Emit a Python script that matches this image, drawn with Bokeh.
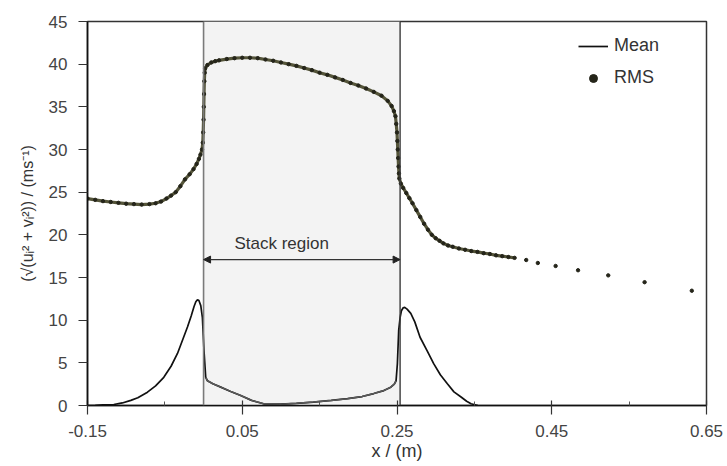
from bokeh.plotting import figure
from bokeh.models import (Range1d, FixedTicker, Span, Arrow, NormalHead, Label,
                          Legend, LegendItem)
from bokeh.embed import file_html
from bokeh.resources import INLINE

# ---------------- data ----------------
mean_x = [-0.150, -0.140, -0.130, -0.116, -0.105, -0.094, -0.085, -0.0725, -0.062,
          -0.0514, -0.042, -0.0337, -0.027, -0.0208, -0.016, -0.0123, -0.010,
          -0.0079, -0.006, -0.0036, -0.0015, 0.0005, 0.0028, 0.005, 0.012, 0.0222,
          0.035, 0.048, 0.062, 0.0776, 0.0995, 0.120, 0.142, 0.165, 0.186, 0.205,
          0.220, 0.233, 0.242, 0.2465, 0.2488, 0.2505, 0.2522, 0.2540, 0.2557,
          0.2580, 0.260, 0.263, 0.2678, 0.273, 0.2798, 0.289, 0.2974, 0.306,
          0.3151, 0.3236, 0.3328, 0.340, 0.3457, 0.3545]
mean_y = [0.0, 0.03, 0.07, 0.12, 0.3, 0.6, 0.9, 1.56, 2.3,
          3.3, 4.6, 6.1, 7.7, 9.2, 10.5, 11.6, 12.15,
          12.4, 12.3, 11.7, 10.3, 6.5, 3.3, 2.9, 2.55, 2.15,
          1.65, 1.17, 0.6, 0.2, 0.15, 0.25, 0.4, 0.6, 0.8, 1.05,
          1.4, 1.75, 2.15, 2.5, 2.9, 4.9, 8.8, 10.3, 11.1,
          11.45, 11.5, 11.3, 10.8, 9.8, 8.0, 6.4, 4.9, 3.6,
          2.55, 1.6, 1.0, 0.5, 0.2, 0.0]

rms_x = [-0.150, -0.140, -0.130, -0.120, -0.110, -0.100, -0.090, -0.080, -0.070,
         -0.062, -0.055, -0.048, -0.042, -0.036, -0.030, -0.024, -0.018, -0.013,
         -0.009, -0.006, -0.004, -0.002, -0.001, -0.0005, 0.0, 0.0003, 0.0006,
         0.001, 0.0015, 0.002, 0.005, 0.010, 0.015, 0.020, 0.030, 0.040, 0.050,
         0.060, 0.070, 0.080, 0.090, 0.100, 0.110, 0.120, 0.130, 0.140, 0.150,
         0.160, 0.170, 0.180, 0.190, 0.200, 0.210, 0.220, 0.230, 0.238, 0.243,
         0.246, 0.248, 0.249, 0.250, 0.2505, 0.251, 0.2515, 0.252, 0.2525, 0.253,
         0.255, 0.258, 0.262, 0.266, 0.270, 0.275, 0.280, 0.285, 0.290, 0.295,
         0.300, 0.305, 0.310, 0.316, 0.322, 0.330, 0.338, 0.346, 0.354, 0.362,
         0.370, 0.378, 0.386, 0.394, 0.402, 0.417, 0.432, 0.455, 0.484, 0.523,
         0.570, 0.631]
rms_y = [24.25, 24.1, 23.95, 23.85, 23.75, 23.65, 23.6, 23.55, 23.6,
         23.7, 23.9, 24.25, 24.6, 25.0, 25.7, 26.5, 27.1, 27.7,
         28.3, 28.9, 29.4, 30.0, 30.8, 32.0, 33.5, 35.0, 36.5,
         38.0, 39.0, 39.5, 39.9, 40.2, 40.35, 40.45, 40.6, 40.7, 40.75,
         40.75, 40.7, 40.55, 40.4, 40.2, 40.0, 39.8, 39.55, 39.3, 39.0,
         38.75, 38.45, 38.15, 37.8, 37.5, 37.15, 36.75, 36.3, 35.7, 35.1,
         34.5, 33.9, 33.0, 32.0, 31.0, 30.0, 29.0, 28.0, 27.2, 26.6,
         26.0, 25.5, 24.9, 24.3, 23.7, 22.9, 22.1, 21.3, 20.6, 20.0,
         19.6, 19.3, 19.0, 18.75, 18.6, 18.4, 18.25, 18.1, 18.0, 17.85,
         17.75, 17.6, 17.5, 17.4, 17.3, 17.05, 16.7, 16.35, 15.85, 15.25,
         14.45, 13.45]
rms_dense_limit = 0.402   # densely sampled part of the RMS series

stack_start = 0.0
stack_end = 0.254
stack_label = "Stack region"
stack_label_x = 0.101
stack_label_y = 18.95
arrow_y = 17.1

x_ticks = [-0.15, 0.05, 0.25, 0.45, 0.65]
x_minor_ticks = [-0.05, 0.15, 0.35, 0.55]
y_ticks = [0, 5, 10, 15, 20, 25, 30, 35, 40, 45]
x_min, x_max = -0.15, 0.65
y_min, y_max = 0, 45

FONT = "Liberation Sans"

# ---------------- figure ----------------
p = figure(width=727, height=466, output_backend="svg", toolbar_location=None,
           x_range=Range1d(x_min, x_max), y_range=Range1d(y_min, y_max),
           min_border_left=87, min_border_right=21, min_border_top=21,
           min_border_bottom=61)
p.background_fill_color = "white"
p.border_fill_color = "white"
p.outline_line_color = "#333333"
p.outline_line_width = 1.5
p.xgrid.visible = False
p.ygrid.visible = False

# stack region shading and edges
p.quad(left=[stack_start], right=[stack_end], bottom=[y_min], top=[y_max],
       fill_color="#f3f3f3", line_color=None)
p.add_layout(Span(location=stack_start, dimension="height", line_color="#7a7a7a",
                  line_width=1.6))
p.add_layout(Span(location=stack_end, dimension="height", line_color="#3a3a3a",
                  line_width=1.4))

# RMS series: dense part also traced so it reads as a thick dotted band
dense_x = [x for x in rms_x if x <= rms_dense_limit]
dense_y = [y for x, y in zip(rms_x, rms_y) if x <= rms_dense_limit]
p.line(dense_x, dense_y, line_color="#55553a", line_width=3.2)
rms_r = p.scatter(rms_x, rms_y, size=3.4, marker="circle", fill_color="#25251a",
                  line_color="#25251a")

# Mean series (the part inside the stack reads lighter in the reference)
mean_r = p.line(mean_x, mean_y, line_color="#111111", line_width=1.7)
in_x = [x for x in mean_x if 0.002 <= x <= 0.2488]
in_y = [y for x, y in zip(mean_x, mean_y) if 0.002 <= x <= 0.2488]
p.line(in_x, in_y, line_color="#5a5a5a", line_width=1.5)

# stack annotation
p.add_layout(Arrow(start=NormalHead(size=7, fill_color="#222222", line_color="#222222"),
                   end=NormalHead(size=7, fill_color="#222222", line_color="#222222"),
                   x_start=stack_start, y_start=arrow_y, x_end=stack_end, y_end=arrow_y,
                   line_color="#333333", line_width=1.1))
p.add_layout(Label(x=stack_label_x, y=stack_label_y, text=stack_label,
                   text_align="center", text_baseline="middle",
                   text_font=FONT, text_font_size="17px", text_color="#333333"))

# axes
p.xaxis.ticker = FixedTicker(ticks=x_ticks, minor_ticks=x_minor_ticks)
p.yaxis.ticker = FixedTicker(ticks=y_ticks)
p.xaxis.major_label_overrides = {t: f"{t:.2f}" for t in x_ticks}
p.xaxis.axis_label = "x / (m)"
p.yaxis.axis_label = "(√(uᵢ² + vᵢ²)) / (ms⁻¹)"
for ax in (p.xaxis[0], p.yaxis[0]):
    ax.axis_line_color = "#111111"
    ax.axis_line_width = 1.6
    ax.major_tick_line_color = "#333333"
    ax.major_tick_line_width = 1.2
    ax.minor_tick_line_color = "#555555"
    ax.major_label_text_font = FONT
    ax.major_label_text_font_size = "17px"
    ax.major_label_text_color = "#444444"
    ax.axis_label_text_font = FONT
    ax.axis_label_text_font_style = "normal"
    ax.axis_label_text_color = "#333333"
p.xaxis.axis_label_text_font_size = "18px"
p.yaxis.axis_label_text_font_size = "16px"
p.xaxis.major_tick_in = 5
p.xaxis.major_tick_out = 9
p.xaxis.minor_tick_in = 4
p.xaxis.minor_tick_out = 0
p.xaxis.major_label_standoff = 10
p.xaxis.axis_label_standoff = 1
p.yaxis.major_tick_in = 0
p.yaxis.major_tick_out = 9
p.yaxis.minor_tick_line_color = None
p.yaxis.major_label_standoff = 11
p.yaxis.axis_label_standoff = 10

legend = Legend(items=[LegendItem(label="Mean", renderers=[mean_r]),
                       LegendItem(label="RMS", renderers=[rms_r])],
                location=(491, 317), background_fill_alpha=0, border_line_color=None,
                padding=0, margin=0, spacing=11, glyph_width=30, glyph_height=20,
                label_standoff=6, label_text_font=FONT, label_text_font_size="18px",
                label_text_color="#333333")
p.add_layout(legend, "center")

open("out.html", "w").write(file_html(p, INLINE))
